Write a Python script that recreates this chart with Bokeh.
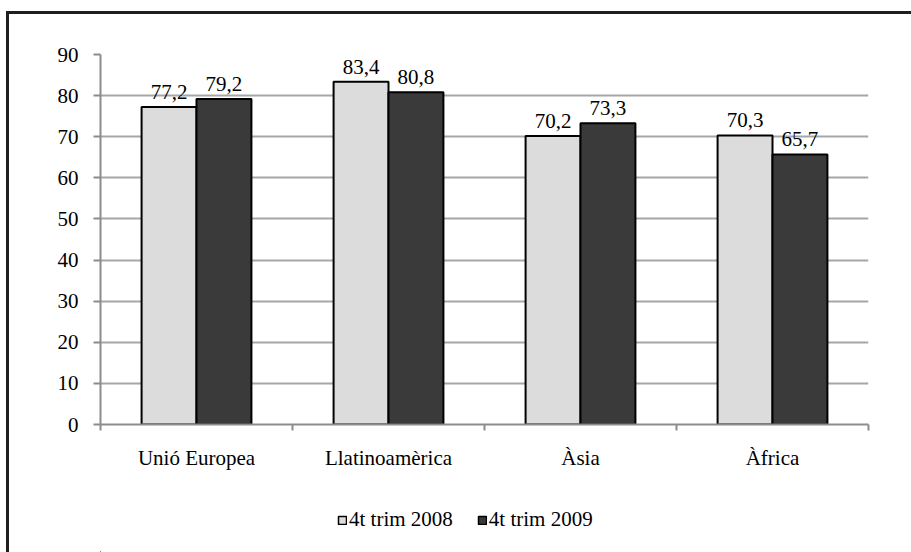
from bokeh.plotting import figure
from bokeh.layouts import column
from bokeh.models import (FixedTicker, Range1d, Legend, LegendItem, ColumnDataSource,
                          LabelSet)
from bokeh.embed import file_html
from bokeh.resources import INLINE

categories = ["Unió Europea", "Llatinoamèrica", "Àsia", "Àfrica"]
series_names = ["4t trim 2008", "4t trim 2009"]
values_2008 = [77.2, 83.4, 70.2, 70.3]
values_2009 = [79.2, 80.8, 73.3, 65.7]
y_ticks = [0, 10, 20, 30, 40, 50, 60, 70, 80, 90]

FONT = "'Liberation Serif'"
FS = "21px"
BAR_W = 0.286
OFF = 0.143
COLORS = ["#dcdcdc", "#3a3a3a"]

def fmt(v):
    return f"{v:.1f}".replace(".", ",")

centers = [i + 0.5 for i in range(len(categories))]
src_a = ColumnDataSource(dict(x=[c - OFF for c in centers], y=values_2008,
                              t=[fmt(v) for v in values_2008]))
src_b = ColumnDataSource(dict(x=[c + OFF for c in centers], y=values_2009,
                              t=[fmt(v) for v in values_2009]))

p = figure(width=902, height=470, x_range=Range1d(0, len(categories)),
           y_range=Range1d(0, 90), output_backend="svg", toolbar_location=None,
           min_border_left=91, min_border_right=43, min_border_top=40,
           min_border_bottom=60)
p.outline_line_color = None

p.vbar(x="x", top="y", width=BAR_W, source=src_a, fill_color=COLORS[0],
       line_color="black", line_width=2)
p.vbar(x="x", top="y", width=BAR_W, source=src_b, fill_color=COLORS[1],
       line_color="black", line_width=2)

for src in (src_a, src_b):
    p.add_layout(LabelSet(x="x", y="y", text="t", source=src, y_offset=8,
                          text_align="center", text_baseline="bottom",
                          text_font=FONT, text_font_size=FS, text_color="black"))

# x axis
xa = p.xaxis[0]
xa.ticker = FixedTicker(ticks=centers, minor_ticks=list(range(len(categories) + 1)))
xa.major_label_overrides = {c: name for c, name in zip(centers, categories)}
xa.major_tick_out = 0
xa.major_tick_in = 0
xa.minor_tick_out = 6
xa.minor_tick_in = 0
xa.minor_tick_line_color = "#8c8c8c"
xa.minor_tick_line_width = 2
xa.axis_line_color = "#8c8c8c"
xa.axis_line_width = 2
xa.major_label_text_font = FONT
xa.major_label_text_font_size = FS
xa.major_label_text_color = "black"
xa.major_label_standoff = 15

# y axis
ya = p.yaxis[0]
ya.ticker = FixedTicker(ticks=y_ticks)
ya.minor_tick_line_color = None
ya.major_tick_out = 7
ya.major_tick_in = 0
ya.major_tick_line_color = "#8c8c8c"
ya.major_tick_line_width = 2
ya.axis_line_color = "#8c8c8c"
ya.axis_line_width = 2
ya.major_label_text_font = FONT
ya.major_label_text_font_size = FS
ya.major_label_text_color = "black"
ya.major_label_standoff = 15

p.xgrid.visible = False
p.ygrid.grid_line_color = "#a6a6a6"
p.ygrid.grid_line_width = 2

# legend strip below the chart (proxy bars sit far outside its visible ranges)
pl = figure(width=902, height=68, x_range=Range1d(10, 14), y_range=Range1d(200, 300),
            output_backend="svg", toolbar_location=None,
            x_axis_location=None, y_axis_location=None, min_border=0)
pl.outline_line_color = None
pl.xgrid.visible = False
pl.ygrid.visible = False
lr1 = pl.vbar(x="x", top="y", width=BAR_W, source=src_a, fill_color=COLORS[0],
              line_color="black", line_width=1.5)
lr2 = pl.vbar(x="x", top="y", width=BAR_W, source=src_b, fill_color=COLORS[1],
              line_color="black", line_width=1.5)
legend = Legend(items=[LegendItem(label=series_names[0], renderers=[lr1]),
                       LegendItem(label=series_names[1], renderers=[lr2])],
                location=(237, 20), orientation="horizontal",
                border_line_color=None, background_fill_alpha=0,
                glyph_width=10, glyph_height=10, label_text_font=FONT,
                label_text_font_size=FS, label_text_color="black",
                spacing=24, label_standoff=2, padding=0, margin=0)
pl.add_layout(legend)

page = column(p, pl, spacing=0,
              styles={"border-top": "3px solid #1f1f1f",
                      "border-left": "3px solid #1f1f1f",
                      "margin-top": "11px", "margin-left": "6px"})

open("out.html", "w").write(file_html(page, INLINE))
